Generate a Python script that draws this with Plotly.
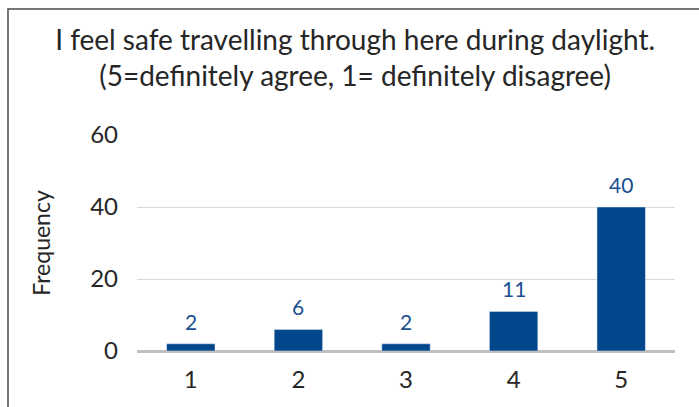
import plotly.graph_objects as go

categories = ["1", "2", "3", "4", "5"]
frequency = [2, 6, 2, 11, 40]
y_ticks = [0, 20, 40, 60]

BAR = "#02468c"
LABEL = "#1a4f91"
TXT = "#262626"
FONT = "Lato"

W, H = 699, 407
L, R, T, B = 137, 24, 135, 56
pw, ph = W - L - R, H - T - B

def px_x(x):
    return (x - L) / pw

def px_y(y):
    return (H - B - y) / ph

fig = go.Figure(
    go.Bar(x=categories, y=frequency, marker_color=BAR, width=0.45)
)

for i, v in enumerate(frequency):
    fig.add_annotation(x=i, y=v, text=str(v), showarrow=False, yanchor="bottom",
                       yshift=8, font=dict(family=FONT, size=21, color=LABEL))

fig.add_shape(type="path", xref="paper", yref="paper",
              path=f"M {px_x(8)},{px_y(420)} L {px_x(8)},{px_y(9)} L {px_x(720)},{px_y(9)}",
              line=dict(color="#4a4a4a", width=1.5))

fig.update_layout(
    width=W, height=H,
    margin=dict(l=L, r=R, t=T, b=B),
    paper_bgcolor="white", plot_bgcolor="white",
    showlegend=False,
    title=dict(text="I feel safe travelling through here during daylight.<br>(5=definitely agree, 1= definitely disagree)",
               x=0.508, xanchor="center", xref="container",
               y=1 - 50 / H, yanchor="top", yref="container",
               font=dict(family=FONT, size=28, color=TXT)),
    font=dict(family=FONT, color=TXT),
)
fig.update_xaxes(type="category", range=[-0.5, 4.5], tickfont=dict(size=24, color=TXT), showgrid=False,
                 showline=False, ticks="", ticklabelstandoff=12, zeroline=False)
fig.update_yaxes(range=[0, 60], tickvals=y_ticks, tickfont=dict(size=24, color=TXT),
                 showgrid=True, gridcolor="#d9d9d9", gridwidth=1,
                 zeroline=True, zerolinecolor="#bfbfbf", zerolinewidth=2.5,
                 ticks="", ticklabelstandoff=18,
                 title=dict(text="Frequency", font=dict(size=23, color=TXT), standoff=33))

fig.write_html("out.html")
